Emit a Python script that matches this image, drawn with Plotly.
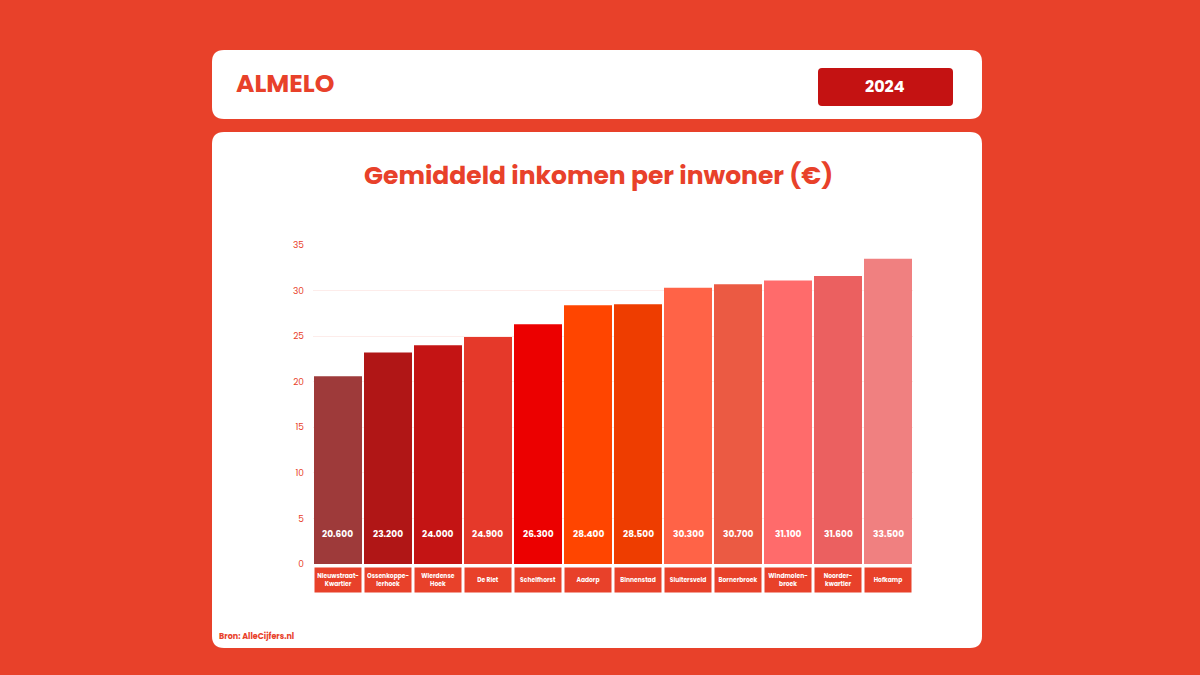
import re
import plotly.graph_objects as go

# --- data ---
wijken = ["Nieuwstraat-<br>Kwartier", "Ossenkoppe-<br>lerhoek", "Wierdense<br>Hoek", "De Riet",
          "Schelfhorst", "Aadorp", "Binnenstad", "Sluitersveld", "Bornerbroek",
          "Windmolen-<br>broek", "Noorder-<br>kwartier", "Hofkamp"]
inkomen = [20.6, 23.2, 24.0, 24.9, 26.3, 28.4, 28.5, 30.3, 30.7, 31.1, 31.6, 33.5]
labels = ["20.600", "23.200", "24.000", "24.900", "26.300", "28.400",
          "28.500", "30.300", "30.700", "31.100", "31.600", "33.500"]
kleuren = ["#9E3A3A", "#B01616", "#C41414", "#E5392A", "#EC0000", "#FF4500",
           "#EE3D00", "#FF6347", "#EB5A43", "#FF6B6B", "#EB6060", "#F08080"]

RED = "#E8412A"
FONT = "Poppins, Inter, 'Noto Sans', sans-serif"
W, H = 1200, 675


def fy(y):
    # pixel y (from top) -> paper fraction, with a small correction for the viewer
    y = 337 + (y - 337) / 0.982
    return 1 - y / H


fig = go.Figure(go.Bar(x=wijken, y=inkomen, marker=dict(color=kleuren, line_width=0),
                       hoverinfo="skip"))


def rounded(x0, y0, x1, y1, r, color):
    # rounded rectangle given in pixels, converted to paper coords
    path = (f"M{x0+r},{y0} L{x1-r},{y0} Q{x1},{y0} {x1},{y0+r} L{x1},{y1-r} Q{x1},{y1} {x1-r},{y1} "
            f"L{x0+r},{y1} Q{x0},{y1} {x0},{y1-r} L{x0},{y0+r} Q{x0},{y0} {x0+r},{y0} Z")

    def conv(m):
        a, b = float(m.group(1)), float(m.group(2))
        return f"{a / W:.5f},{fy(b):.5f}"
    path = re.sub(r"(-?[\d.]+),(-?[\d.]+)", conv, path)
    return dict(type="path", xref="paper", yref="paper", path=path,
                fillcolor=color, line_width=0, layer="below")


shapes = [
    rounded(212, 50, 982, 119, 12, "white"),
    rounded(212, 132, 982, 648, 12, "white"),
    rounded(818, 68, 953, 106, 4, "#C41212"),
]

annotations = [
    dict(text="<b>ALMELO</b>", x=234 / W, y=fy(84), xref="paper", yref="paper",
         xanchor="left", yanchor="middle", showarrow=False, font=dict(size=25, color=RED, family=FONT)),
    dict(text="<b>2024</b>", x=885 / W, y=fy(87), xref="paper", yref="paper",
         xanchor="center", yanchor="middle", showarrow=False,
         font=dict(size=16, color="white", family=FONT)),
    dict(text="<b>Gemiddeld inkomen per inwoner (€)</b>", x=598 / W, y=fy(176),
         xref="paper", yref="paper", xanchor="center", yanchor="middle", showarrow=False,
         font=dict(size=25, color=RED, family=FONT)),
    dict(text="<b>Bron: AlleCijfers.nl</b>", x=217 / W, y=fy(636), xref="paper", yref="paper",
         xanchor="left", yanchor="middle", showarrow=False, font=dict(size=8, color=RED, family=FONT)),
]
for w, lab in zip(wijken, labels):
    annotations.append(dict(text=f"<b>{lab}</b>", x=w, y=3.3, xref="x", yref="y", showarrow=False,
                            yanchor="middle", font=dict(size=9, color="white", family=FONT)))
    annotations.append(dict(text=f"<b>{w}</b>", x=w, y=fy(580), xref="x", yref="paper",
                            xanchor="center", yanchor="middle", showarrow=False,
                            width=42, height=20, bgcolor=RED, borderpad=2,
                            font=dict(size=6, color="white", family=FONT)))

fig.update_layout(
    width=W, height=H, autosize=False, paper_bgcolor=RED, plot_bgcolor="white",
    margin=dict(l=0, r=0, t=0, b=0, pad=0), showlegend=False, bargap=0.04,
    shapes=shapes, annotations=annotations,
    xaxis=dict(domain=[313 / W, 913 / W], showticklabels=False, showgrid=False, zeroline=False),
    yaxis=dict(domain=[fy(564), fy(245)], range=[0, 35], dtick=5,
               showgrid=True, gridcolor="#FDECEA", zeroline=False,
               tickfont=dict(size=9, color=RED, family=FONT), ticks="", ticklabelstandoff=8),
)

fig.write_html("out.html", config={"displayModeBar": False, "responsive": False},
               post_script="document.body.style.margin='0';document.body.style.background='%s';" % RED)
